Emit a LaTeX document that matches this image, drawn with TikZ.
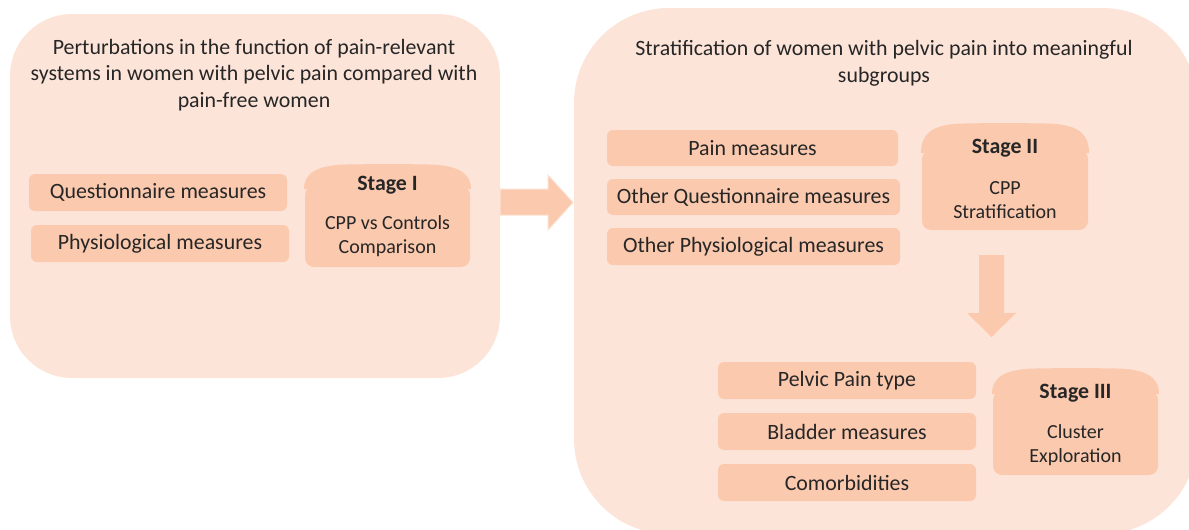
\documentclass[tikz,border=0pt]{standalone}
\usepackage{fontspec}
\setmainfont{Carlito}
\usetikzlibrary{positioning}
\definecolor{panelbg}{HTML}{FDE4D9}
\definecolor{boxfill}{HTML}{FBC9AE}
\definecolor{txt}{HTML}{262626}
\newlength\px
\setlength\px{0.75pt}
\tikzset{
  panel/.style={fill=panelbg},
  meas/.style={fill=boxfill, rounded corners=6\px, minimum height=37\px, inner sep=0pt,
    text=txt, font=\fontsize{16.4}{20}\selectfont},
  paneltitle/.style={text=txt, align=center, font=\fontsize{16.4}{20}\selectfont},
  stagetitle/.style={text=txt, font=\fontsize{16.4}{20}\selectfont\bfseries},
  stagetext/.style={text=txt, align=center, font=\fontsize{15}{18}\selectfont},
  blockarrow/.style={fill=boxfill, draw=white!45!boxfill, line width=1\px},
}
% can-shaped stage box: x left, x right, cap top, body top, body bottom
\newcommand\stagecan[5]{%
  \fill[boxfill, rounded corners=9\px] (#1,#4) rectangle (#2,#5);
  \fill[boxfill] (#1-1,#4+3) .. controls (#1-1,#3+8) and (#1+14,#3+1) .. (#1+42,#3+0.5)
    .. controls ({(#1+#2)/2-20},#3) and ({(#1+#2)/2+20},#3) .. (#2-42,#3+0.5)
    .. controls (#2-14,#3+1) and (#2+1,#3+8) .. (#2+1,#4+3) -- cycle;
}
\begin{document}
\begin{tikzpicture}[x=\px,y=-\px]
\clip (0,0) rectangle (1189,529);
% panels
\fill[panel, rounded corners=62\px] (10,14) rectangle (500,378);
\fill[panel, rounded corners=95\px] (574,8) rectangle (1197,534);
\node[paneltitle] (lefttitle) at (254,75) {Perturbations in the function of pain-relevant\\
  systems in women with pelvic pain compared with\\pain-free women};
\node[paneltitle] (righttitle) at (884,63) {Stratification of women with pelvic pain into meaningful\\subgroups};
% stage I
\node[meas, minimum width=258\px] (quest) at (158,192.5) {Questionnaire measures};
\node[meas, minimum width=258\px] (physio) at (160,243.5) {Physiological measures};
\stagecan{305}{470}{164}{186}{267}
\node[stagetitle] (stageone) at (387.5,185) {Stage I};
\node[stagetext] (compare) at (387.5,236) {CPP vs Controls\\Comparison};
% stage II
\node[meas, minimum width=291\px, minimum height=36\px] (pain) at (752.5,148) {Pain measures};
\node[meas, minimum width=293\px, minimum height=36\px] (otherquest) at (753.5,197) {Other Questionnaire measures};
\node[meas, minimum width=293\px] (otherphysio) at (753.5,246.5) {Other Physiological measures};
\stagecan{922}{1088}{123}{150}{230}
\node[stagetitle] (stagetwo) at (1005,148) {Stage II};
\node[stagetext] (strat) at (1005,200) {CPP\\Stratification};
% stage III
\node[meas, minimum width=258\px] (pptype) at (847,380.5) {Pelvic Pain type};
\node[meas, minimum width=258\px] (bladder) at (847,431.5) {Bladder measures};
\node[meas, minimum width=258\px] (comorb) at (847,482.5) {Comorbidities};
\stagecan{993}{1158}{368}{391}{475}
\node[stagetitle] (stagethree) at (1075.5,393) {Stage III};
\node[stagetext] (cluster) at (1075.5,445) {Cluster\\Exploration};
% arrows
\filldraw[blockarrow] (500,189) -- (548,189) -- (548,175) -- (573,202.5) -- (548,230)
  -- (548,215) -- (500,215) -- cycle;
\fill[boxfill] (979,255) -- (1004,255) -- (1004,313) -- (1016,313) -- (991.5,337)
  -- (967,313) -- (979,313) -- cycle;
\end{tikzpicture}
\end{document}
